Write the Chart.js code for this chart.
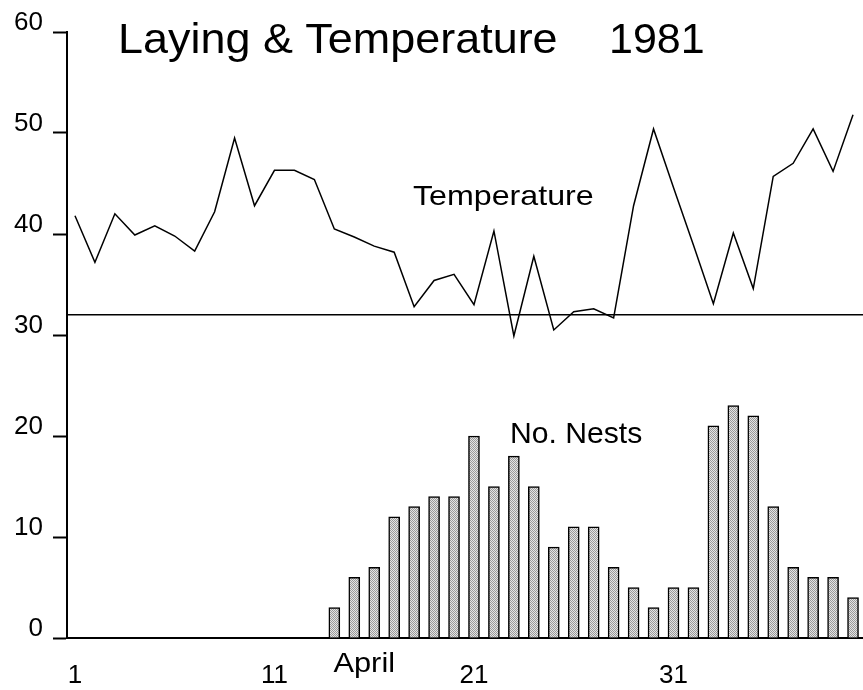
<!DOCTYPE html>
<html>
<head>
<meta charset="utf-8">
<script src="https://cdn.jsdelivr.net/npm/chart.js@4.4.1/dist/chart.umd.min.js"></script>
<style>
  body { margin: 0; background: #fff; }
  canvas { display: block; }
</style>
</head>
<body>
<canvas id="chart" width="863" height="690"></canvas>
<script>
// days of the season (1 = start of record)
const tempDays = [1, 2, 3, 4, 5, 6, 7, 8, 9, 10, 11, 12, 13, 14, 15, 16, 17, 18, 19, 20,
    21, 22, 23, 24, 25, 26, 27, 28, 29, 30, 31, 32, 33, 34, 35, 36, 37, 38, 39, 40];
const temperature = [41.8, 37.2, 42.0, 39.9, 40.8, 39.8, 38.3, 42.2, 49.5, 42.8,
    46.3, 46.3, 45.4, 40.5, 39.7, 38.8, 38.2, 32.8, 35.4, 36.0,
    33.0, 40.3, 29.9, 37.8, 30.5, 32.3, 32.6, 31.7, 42.8, 50.4,
    44.6, 38.9, 33.1, 40.1, 34.6, 45.7, 47.0, 50.4, 46.2, 51.8];

const nestDays = [14, 15, 16, 17, 18, 19, 20, 21, 22, 23, 24, 25, 26, 27,
    28, 29, 30, 31, 32, 33, 34, 35, 36, 37, 38, 39, 40];
const nests = [3, 6, 7, 12, 13, 14, 14, 20, 15, 18, 15, 9, 11, 11,
    7, 5, 3, 5, 5, 21, 23, 22, 13, 7, 6, 6, 4];

const threshold = 32;
const xTickValues = [1, 11, 21, 31];
const yTickValues = [0, 10, 20, 30, 40, 50, 60];

const xMin = 0.6;
const xMax = 40.5;

// stippled grey fill like the old print
function stipple() {
    const c = document.createElement('canvas');
    c.width = 2;
    c.height = 2;
    const g = c.getContext('2d');
    g.fillStyle = '#e4e4e4';
    g.fillRect(0, 0, 2, 2);
    g.fillStyle = '#9a9a9a';
    g.fillRect(0, 0, 1, 1);
    g.fillRect(1, 1, 1, 1);
    return g.createPattern(c, 'repeat');
}

const ctx = document.getElementById('chart').getContext('2d');

function stretchedText(c, text, x, y, size, sx, align) {
    c.save();
    c.font = size + 'px "Liberation Sans", Arial, sans-serif';
    c.textAlign = align || 'left';
    c.textBaseline = 'alphabetic';
    c.translate(x, y);
    c.scale(sx, 1);
    c.fillText(text, 0, 0);
    c.restore();
}

const labels = {
    id: 'labels',
    afterDraw(chart) {
        const c = chart.ctx;
        const xs = chart.scales.x;
        const ys = chart.scales.y;
        c.save();
        c.fillStyle = '#000';
        stretchedText(c, 'Laying & Temperature', 118, 53, 43, 1.045);
        stretchedText(c, '1981', 609, 53, 43, 1.0);
        stretchedText(c, 'Temperature', xs.getPixelForValue(17.94), ys.getPixelForValue(42.9), 28, 1.15);
        stretchedText(c, 'No. Nests', xs.getPixelForValue(22.8), ys.getPixelForValue(19.3), 29, 1.04);
        stretchedText(c, 'April', xs.getPixelForValue(15.5), chart.chartArea.bottom + 34, 28, 1.1, 'center');
        c.restore();
    }
};

new Chart(ctx, {
    type: 'bar',
    data: {
        datasets: [
            {
                type: 'line',
                label: 'Temperature',
                data: tempDays.map((d, i) => ({ x: d, y: temperature[i] })),
                borderColor: '#000',
                borderWidth: 1.5,
                pointRadius: 0,
                tension: 0,
                fill: false
            },
            {
                type: 'line',
                label: 'threshold',
                data: [{ x: xMin, y: threshold }, { x: xMax, y: threshold }],
                borderColor: '#000',
                borderWidth: 1.5,
                pointRadius: 0,
                fill: false
            },
            {
                type: 'bar',
                label: 'No. Nests',
                data: nestDays.map((d, i) => ({ x: d, y: nests[i] })),
                backgroundColor: stipple(),
                borderColor: '#000',
                borderWidth: 1.5,
                barThickness: 11
            }
        ]
    },
    options: {
        responsive: false,
        animation: false,
        events: [],
        layout: {
            padding: { top: 32, left: 0, right: 0, bottom: 0 }
        },
        plugins: {
            legend: { display: false },
            tooltip: { enabled: false },
            title: { display: false }
        },
        scales: {
            x: {
                type: 'linear',
                min: xMin,
                max: xMax,
                offset: false,
                grid: { display: false, drawTicks: false },
                border: { display: true, color: '#000', width: 2 },
                afterBuildTicks(scale) {
                    scale.ticks = xTickValues.map(v => ({ value: v }));
                },
                afterFit(scale) {
                    scale.height = 52;
                },
                ticks: {
                    autoSkip: false,
                    maxRotation: 0,
                    color: '#000',
                    padding: 22,
                    font: { family: 'Liberation Sans', size: 26 }
                }
            },
            y: {
                min: 0,
                max: 60,
                grid: {
                    drawOnChartArea: false,
                    drawTicks: true,
                    tickLength: 14,
                    tickWidth: 2,
                    tickColor: '#000'
                },
                border: { display: true, color: '#000', width: 2 },
                afterBuildTicks(scale) {
                    scale.ticks = yTickValues.map(v => ({ value: v }));
                },
                afterFit(scale) {
                    scale.width = 67;
                },
                ticks: {
                    color: '#000',
                    padding: 10,
                    labelOffset: -9,
                    font: { family: 'Liberation Sans', size: 26 }
                }
            }
        }
    },
    plugins: [labels]
});
</script>
</body>
</html>
